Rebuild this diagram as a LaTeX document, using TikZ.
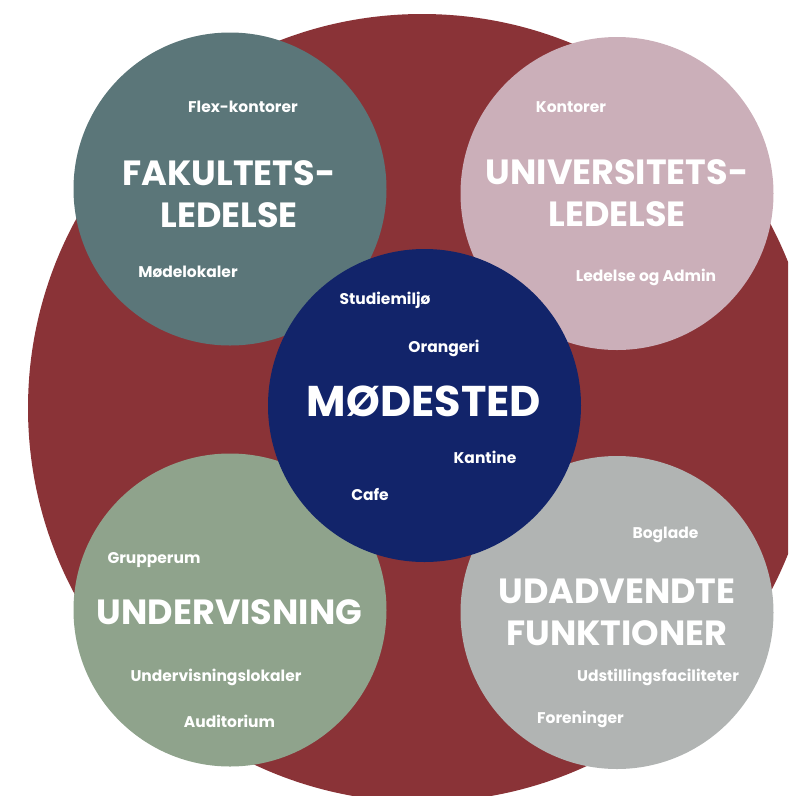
\documentclass[tikz,border=0pt]{standalone}
\usepackage{fontspec}
\setmainfont{Poppins}
\definecolor{bigred}{HTML}{8A3337}
\definecolor{tealc}{HTML}{5B7679}
\definecolor{pinkc}{HTML}{CBAFB9}
\definecolor{navyc}{HTML}{12246A}
\definecolor{greenc}{HTML}{8FA38C}
\definecolor{grayc}{HTML}{B1B4B3}
\begin{document}
\begin{tikzpicture}[x=1pt,y=-1pt,
  zone/.style={circle, inner sep=0pt, minimum size=313pt},
  title/.style={text=white, font=\bfseries\fontsize{35}{42}\selectfont, align=center, inner sep=0pt},
  bigtitle/.style={text=white, font=\bfseries\fontsize{43}{48}\selectfont, inner sep=0pt, text height=30pt, text depth=0pt},
  item/.style={text=white, font=\bfseries\fontsize{15.5}{18}\selectfont, inner sep=0pt, text height=11pt, text depth=0pt}]
\useasboundingbox (0,0) rectangle (788,796);
\clip (0,0) rectangle (788,796);
\node[circle, fill=bigred, minimum size=788pt, inner sep=0pt] (outer) at (422,408) {};
\node[zone, fill=tealc]  (fak) at (230,189) {};
\node[zone, fill=pinkc]  (uni) at (617,193.5) {};
\node[zone, fill=greenc] (und) at (230,610) {};
\node[zone, fill=grayc]  (uda) at (617,612.5) {};
\node[zone, fill=navyc]  (mod) at (424.5,405.5) {};
% Fakultetsledelse
\node[item] (flex) at (243,107) {Flex-kontorer};
\node[title] (faktitle) at (229,194) {FAKULTETS-\\LEDELSE};
\node[item] (modelok) at (188,272) {Mødelokaler};
% Universitetsledelse
\node[item] (kontorer) at (571,107) {Kontorer};
\node[title] (unititle) at (617,193) {UNIVERSITETS-\\LEDELSE};
\node[item] (ledadm) at (646,276) {Ledelse og Admin};
% Modested
\node[item] (studie) at (385,299) {Studiemiljø};
\node[item] (orang) at (444,347) {Orangeri};
\node[bigtitle] (modtitle) at (424,401) {MØDESTED};
\node[item] (kantine) at (485,458) {Kantine};
\node[item] (cafe) at (370,495) {Cafe};
% Undervisning
\node[item] (grupp) at (154,558) {Grupperum};
\node[title] (undtitle) at (229.5,612) {UNDERVISNING};
\node[item] (undlok) at (216,676) {Undervisningslokaler};
\node[item] (audit) at (229.5,722) {Auditorium};
% Udadvendte funktioner
\node[item] (boglade) at (665.5,533) {Boglade};
\node[title] (udatitle) at (617,612.5) {UDADVENDTE\\FUNKTIONER};
\node[item] (udst) at (658,676) {Udstillingsfaciliteter};
\node[item] (foren) at (580.5,718) {Foreninger};
\end{tikzpicture}
\end{document}
